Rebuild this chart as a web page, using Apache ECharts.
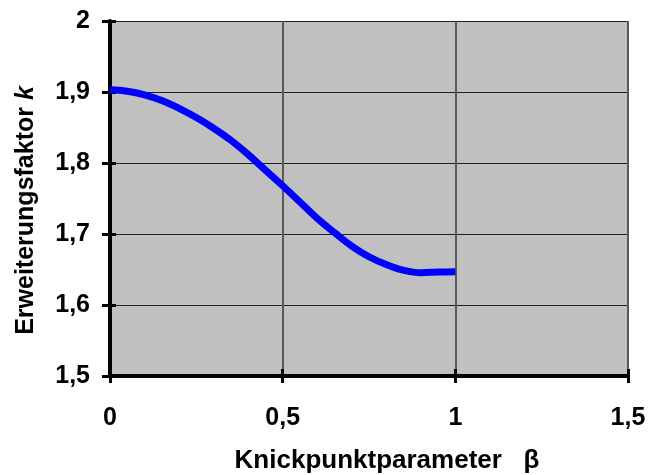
<!DOCTYPE html>
<html><head><meta charset="utf-8">
<script src="https://cdn.jsdelivr.net/npm/echarts@6/dist/echarts.min.js"></script>
<style>html,body{margin:0;padding:0;background:#fff}#c{width:648px;height:475px}</style>
</head><body><div id="c"></div>
<script>
const beta = [0,0.05,0.1,0.15,0.2,0.25,0.3,0.35,0.4,0.45,0.5,0.55,0.6,0.65,0.7,0.75,0.8,0.85,0.9,0.95,1.0];
const kValues = [1.903,1.901,1.896,1.888,1.877,1.864,1.849,1.832,1.812,1.790,1.768,1.745,1.722,1.702,1.683,1.668,1.657,1.649,1.6455,1.6465,1.647];
const fmt = v => String(+v.toFixed(2)).replace('.', ',');
const font = '"Liberation Sans", Arial, sans-serif';
const chart = echarts.init(document.getElementById('c'));
chart.setOption({
  animation:false,
  backgroundColor:'#fff',
  grid: {left:110, right:20, top:21, bottom:99, show:true, backgroundColor:'#C0C0C0', borderWidth:0, outerBoundsMode:'none', containLabel:false},
  xAxis: [{
    type:'value', min:0, max:1.5, interval:0.5,
    axisLine:{show:true, onZero:false, lineStyle:{color:'#000', width:4}},
    axisTick:{show:true, length:7, lineStyle:{color:'#000', width:3}},
    axisLabel:{formatter:fmt, margin:30, color:'#000', fontFamily:font, fontWeight:'bold', fontSize:25},
    splitLine:{show:true, lineStyle:{color:'#5a5a5a', width:2}},
    name:'Knickpunktparameter   β', nameLocation:'middle', nameGap:72,
    nameTextStyle:{color:'#000', fontFamily:font, fontWeight:'bold', fontSize:26, padding:[0,0,0,36]}
  },{
    type:'value', min:0, max:1.5, interval:0.5, position:'bottom',
    axisLine:{show:false}, axisLabel:{show:false}, splitLine:{show:false},
    axisTick:{show:true, inside:true, length:7, lineStyle:{color:'#000', width:3}}
  }],
  yAxis: [{
    type:'value', min:1.5, max:2, interval:0.1,
    axisLine:{show:true, onZero:false, lineStyle:{color:'#000', width:4}},
    axisTick:{show:true, length:8, lineStyle:{color:'#000', width:3}},
    axisLabel:{formatter:fmt, margin:20, color:'#000', fontFamily:font, fontWeight:'bold', fontSize:25},
    splitLine:{show:true, lineStyle:{color:'#202020', width:1}},
    name:'{a|Erweiterungsfaktor }{b|k}', nameLocation:'middle', nameGap:71, nameRotate:90,
    nameTextStyle:{color:'#000', fontFamily:font, fontWeight:'bold', fontSize:25,
      rich:{a:{fontFamily:font, fontWeight:'bold', fontSize:25, color:'#000'},
            b:{fontFamily:font, fontWeight:'bold', fontStyle:'italic', fontSize:25, color:'#000', padding:[0,24,0,0]}}}
  },{
    type:'value', min:1.5, max:2, interval:0.1, position:'left',
    axisLine:{show:false}, axisLabel:{show:false}, splitLine:{show:false},
    axisTick:{show:true, inside:true, length:6, lineStyle:{color:'#000', width:3}}
  }],
  series: [{
    type:'line', xAxisIndex:0, yAxisIndex:0,
    data: beta.map((b,i)=>[b,kValues[i]]),
    smooth:0.4, showSymbol:false, symbol:'none',
    lineStyle:{color:'#0000FF', width:7, cap:'butt'}
  }]
});
</script></body></html>
